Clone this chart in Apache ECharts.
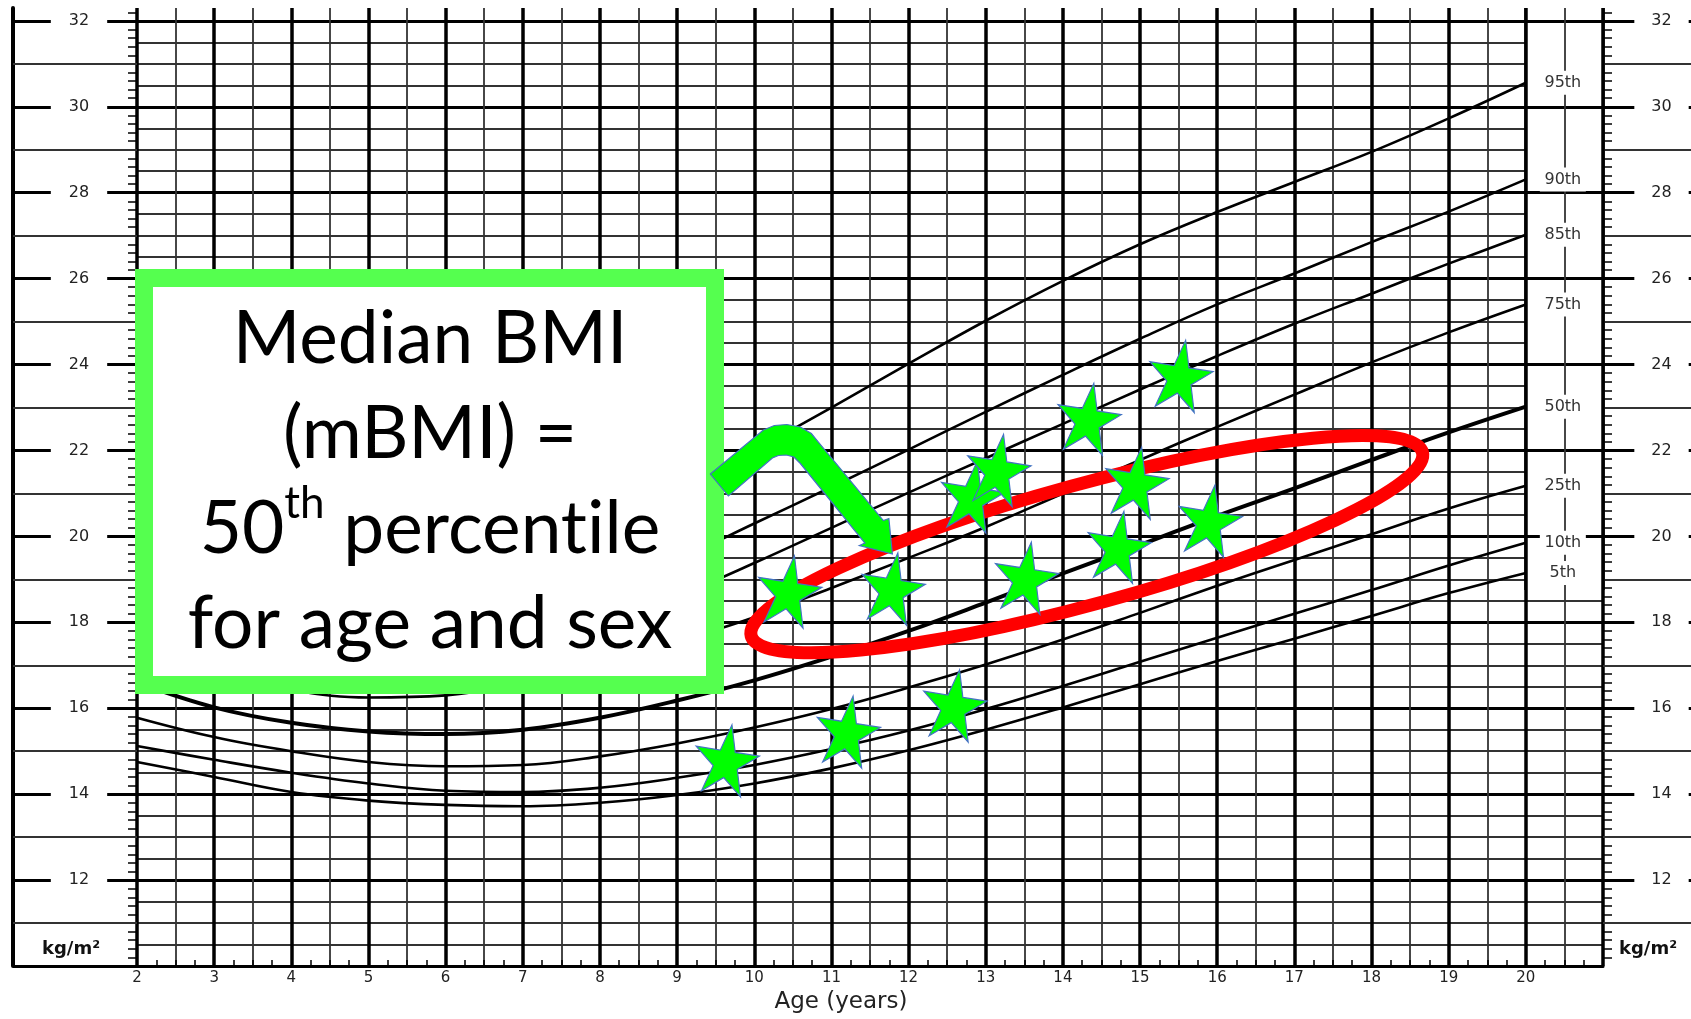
<!DOCTYPE html>
<html>
<head>
<meta charset="utf-8">
<title>Median BMI - BMI-for-age chart</title>
<style>
  html, body { margin: 0; padding: 0; background: #fff; }
  #chart { width: 1691px; height: 1019px; }
</style>
<script src="https://cdn.jsdelivr.net/npm/echarts@6/dist/echarts.min.js"></script>
</head>
<body>
<div id="chart"></div>
<script>
// ages (years) where the percentile curves were read
var ages = [2, 3, 4, 5, 6, 7, 8, 9, 10, 11, 12, 13, 14, 15, 16, 17, 18, 19, 20];

// BMI percentile curves (kg/m2)
var p5  = [14.75, 14.4, 14.05, 13.85, 13.75, 13.72, 13.8, 13.98, 14.25, 14.6, 15.02, 15.5, 16.02, 16.56, 17.1, 17.62, 18.15, 18.68, 19.15];
var p10 = [15.12, 14.8, 14.5, 14.25, 14.08, 14.05, 14.15, 14.38, 14.68, 15.05, 15.48, 15.98, 16.52, 17.08, 17.64, 18.2, 18.75, 19.32, 19.85];
var p25 = [15.78, 15.33, 15.0, 14.75, 14.65, 14.68, 14.88, 15.18, 15.55, 15.98, 16.48, 17.02, 17.6, 18.22, 18.85, 19.45, 20.05, 20.65, 21.18];
var p50 = [16.6, 16.02, 15.66, 15.46, 15.4, 15.5, 15.78, 16.18, 16.65, 17.2, 17.8, 18.46, 19.14, 19.8, 20.48, 21.12, 21.78, 22.42, 23.02];
var p75 = [17.4, 16.8, 16.42, 16.25, 16.3, 16.58, 17.0, 17.55, 18.12, 18.8, 19.5, 20.22, 21.0, 21.78, 22.55, 23.3, 24.05, 24.75, 25.4];
var p85 = [18.0, 17.3, 16.92, 16.8, 17.0, 17.4, 17.92, 18.6, 19.38, 20.2, 21.02, 21.82, 22.62, 23.42, 24.2, 24.95, 25.65, 26.35, 27.02];
var p90 = [18.45, 17.65, 17.3, 17.3, 17.6, 18.1, 18.72, 19.45, 20.3, 21.15, 22.02, 22.9, 23.76, 24.6, 25.4, 26.12, 26.85, 27.56, 28.31];
var p95 = [19.3, 18.3, 17.85, 18.0, 18.55, 19.3, 20.12, 21.02, 22.0, 23.0, 24.02, 25.02, 25.95, 26.8, 27.55, 28.25, 28.95, 29.73, 30.56];

var percentileNames = ['5th', '10th', '25th', '50th', '75th', '85th', '90th', '95th'];
var percentileValues = [p5, p10, p25, p50, p75, p85, p90, p95];

// the green stars (individual children)
var starAges = [10.45, 11.79, 12.82, 13.16, 14.33, 15.52, 14.95, 15.90, 14.72, 13.52, 9.64, 11.21, 12.59];
var starBmi  = [18.74, 18.81, 20.95, 21.57, 22.76, 23.76, 21.27, 20.39, 19.78, 19.06, 14.81, 15.48, 16.09];

// tick values
var oddTicks = [11, 13, 15, 17, 19, 21, 23, 25, 27, 29, 31];
var evenTicks = [10, 12, 14, 16, 18, 20, 22, 24, 26, 28, 30, 32];
var labelTicks = [12, 14, 16, 18, 20, 22, 24, 26, 28, 30, 32];

// red ring and arrow anchors (age, BMI)
var ellipseEnds = [[9.96, 17.68], [18.66, 21.96]];
var arrowTip = [11.79, 19.59];

var Y_MIN = 10, Y_MAX = 32.3;
var TICK_FONT = 'DejaVu Sans';
var THIN = '#333';

var chart = echarts.init(document.getElementById('chart'));

function pairs(xs, ys) {
  return xs.map(function (x, i) { return [x, ys[i]]; });
}

function baseY(extra) {
  var ax = {
    type: 'value', min: Y_MIN, max: Y_MAX, position: 'left',
    axisLine: { show: false }, axisTick: { show: false }, axisLabel: { show: false },
    splitLine: { show: false }, minorTick: { show: false }, minorSplitLine: { show: false }
  };
  return Object.assign(ax, extra);
}

var curveSeries = percentileNames.map(function (name, i) {
  return {
    name: name,
    type: 'line',
    yAxisIndex: 1,
    data: pairs(ages, percentileValues[i]),
    smooth: 0.4,
    symbol: 'none',
    silent: true,
    z: 4,
    lineStyle: { color: '#000', width: name === '50th' ? 4 : 2.6 },
    endLabel: {
      show: true,
      formatter: '{c|' + name + '}',
      distance: 14,
      backgroundColor: '#fff',
      padding: [4, 3],
      color: '#333',
      fontFamily: TICK_FONT,
      fontSize: 16,
      rich: { c: { width: 40, align: 'center', color: '#333', fontFamily: TICK_FONT, fontSize: 16 } }
    }
  };
});

// white label column between 20 and 21 years, with the even lines and verticals redrawn
var columnLines = [];
evenTicks.forEach(function (v) {
  if (v >= 20) {
    columnLines.push([{ coord: [20, v], lineStyle: { color: '#000', width: 3, type: 'solid' } }, { coord: [21, v] }]);
  }
});
[20, 20.5, 21].forEach(function (a) {
  var st = a === 20.5 ? { color: THIN, width: 1.8, type: 'solid' } : { color: '#000', width: 3.5, type: 'solid' };
  columnLines.push([{ coord: [a, 18.75], lineStyle: st }, { coord: [a, Y_MAX] }]);
});

var option = {
  animation: false,
  backgroundColor: '#fff',
  grid: [{ left: 137, right: 88, top: 8, bottom: 53, outerBoundsMode: 'none' }],
  xAxis: [
    {
      type: 'value', min: 2, max: 21, interval: 1, position: 'bottom',
      axisLine: { show: true, onZero: false, lineStyle: { color: '#000', width: 3 } },
      axisTick: { show: true, inside: true, length: 6, lineStyle: { color: '#000', width: 1.5 } },
      minorTick: { show: true, splitNumber: 4, length: 6, lineStyle: { color: '#000', width: 1.5 } },
      axisLabel: {
        margin: 5, color: '#222', fontFamily: TICK_FONT, fontSize: 15,
        formatter: function (v) { return v > 20 ? '' : String(v); }
      },
      splitLine: { show: true, lineStyle: { color: '#000', width: 3.5 } },
      name: 'Age (years)', nameLocation: 'middle', nameGap: 22,
      nameTextStyle: { color: '#222', fontFamily: TICK_FONT, fontSize: 23, padding: [0, 58, 0, 0] }
    },
    {
      // half-year lines
      type: 'value', min: 2, max: 21, interval: 1, position: 'bottom',
      axisLine: { show: false }, axisTick: { show: false }, axisLabel: { show: false },
      splitLine: { show: false },
      minorTick: { show: false, splitNumber: 2 },
      minorSplitLine: { show: true, lineStyle: { color: THIN, width: 1.8 } }
    }
  ],
  yAxis: [
    // 0: odd and half lines
    baseY({ interval: 2, minorTick: { show: false, splitNumber: 4 },
      minorSplitLine: { show: true, lineStyle: { color: THIN, width: 1.8 } } }),
    // 1: even lines
    baseY({ interval: 2, splitLine: { show: true, showMaxLine: false, lineStyle: { color: '#000', width: 3 } } }),
    // 2: odd lines running into the left margin
    baseY({ interval: 1, axisTick: { show: true, customValues: oddTicks, length: 124, lineStyle: { color: THIN, width: 1.8 } } }),
    // 3: small ticks every 0.2
    baseY({ interval: 1, minorTick: { show: true, splitNumber: 5, length: 9, lineStyle: { color: '#000', width: 1.5 } } }),
    // 4: even ticks + labels on the left
    baseY({ interval: 2,
      axisTick: { show: true, customValues: evenTicks, length: 124, lineStyle: { color: '#000', width: 3 } },
      axisLabel: { show: true, customValues: labelTicks, align: 'center', margin: 58, color: '#222',
        fontFamily: TICK_FONT, fontSize: 16, backgroundColor: '#fff', padding: [3, 18] } }),
    // 5: left frame
    baseY({ interval: 2, offset: 124, axisLine: { show: true, lineStyle: { color: '#000', width: 4 } } }),
    // 6: odd lines into the right margin
    baseY({ interval: 1, position: 'right',
      axisTick: { show: true, customValues: oddTicks, length: 95, lineStyle: { color: THIN, width: 1.8 } } }),
    // 7: small ticks on the right
    baseY({ interval: 1, position: 'right',
      minorTick: { show: true, splitNumber: 5, length: 9, lineStyle: { color: '#000', width: 1.5 } } }),
    // 8: even ticks + labels on the right
    baseY({ interval: 2, position: 'right',
      axisTick: { show: true, customValues: labelTicks, length: 95, lineStyle: { color: '#000', width: 3 } },
      axisLabel: { show: true, customValues: labelTicks, align: 'center', margin: 58.5, color: '#222',
        fontFamily: TICK_FONT, fontSize: 16, backgroundColor: '#fff', padding: [3, 17] } })
  ],
  series: curveSeries.concat([
    {
      type: 'line', yAxisIndex: 1, data: [[20.5, 25]], symbol: 'none', silent: true,
      lineStyle: { opacity: 0 },
      markArea: { silent: true, z: 1, itemStyle: { color: '#fff' },
        data: [[{ coord: [20, 18.75] }, { coord: [21, Y_MAX] }]] },
      markLine: { silent: true, z: 2, symbol: ['none', 'none'], label: { show: false },
        lineStyle: { type: 'solid' }, data: columnLines }
    },
    {
      type: 'scatter', yAxisIndex: 1, z: 10, silent: true,
      data: pairs(starAges, starBmi),
      symbol: 'path://M0,-100 L22.45,-30.9 L95.1,-30.9 L36.3,11.8 L58.8,80.9 L0,38.2 L-58.8,80.9 L-36.3,11.8 L-95.1,-30.9 L-22.45,-30.9 Z',
      symbolSize: [64, 70],
      symbolRotate: -9,
      itemStyle: { color: '#00ff00', borderColor: '#4472c4', borderWidth: 1.2, opacity: 1 }
    }
  ])
};

chart.setOption(option);

// annotations placed from the data scale
var px = function (p) { return chart.convertToPixel({ seriesIndex: 0 }, p); };
var e0 = px(ellipseEnds[0]);
var e1 = px(ellipseEnds[1]);
var tip = px(arrowTip);

// bent arrow outline, relative to its tip (pixels)
var arrowShape = [
  [-182, -80], [-129, -124], [-118, -128.5], [-105.6, -129.5], [-92, -127],
  [-81, -120.5], [-74, -112], [-9, -33.5], [-3.5, -35.5], [0, 0], [-33, -8.5],
  [-27.5, -11], [-92, -90.5], [-98.5, -97], [-106, -99], [-114, -98.5],
  [-120, -96], [-164, -58]
];

chart.setOption({
  graphic: [
    {
      type: 'ellipse', z: 6, silent: true,
      x: (e0[0] + e1[0]) / 2, y: (e0[1] + e1[1]) / 2,
      rotation: Math.atan2(e0[1] - e1[1], e1[0] - e0[0]),
      shape: { cx: 0, cy: 0, rx: Math.hypot(e1[0] - e0[0], e1[1] - e0[1]) / 2, ry: 60 },
      style: { fill: 'none', stroke: '#ff0000', lineWidth: 13 }
    },
    {
      type: 'rect', z: 20, silent: true,
      shape: { x: 144, y: 278, width: 571, height: 407 },
      style: { fill: '#fff', stroke: '#55ff4f', lineWidth: 18 }
    },
    {
      type: 'text', z: 21, silent: true, x: 430, y: 292,
      style: {
        text: 'Median BMI\n(mBMI) =\n{n|50}{sup|th}{n| percent\u200Cile}\nfor age and sex',
        fill: '#000', fontFamily: 'Lato', fontSize: 73, lineHeight: 95,
        align: 'center', verticalAlign: 'top',
        rich: {
          n: { fontFamily: 'Lato', fontSize: 73, lineHeight: 95 },
          sup: { fontFamily: 'Lato', fontSize: 44, lineHeight: 66, verticalAlign: 'top' }
        }
      }
    },
    {
      type: 'polygon', z: 30, silent: true, x: tip[0], y: tip[1],
      shape: { points: arrowShape },
      style: { fill: '#00ff00', stroke: '#4472c4', lineWidth: 1.2 }
    },
    {
      type: 'text', z: 21, silent: true, x: 71, y: 949,
      style: { text: 'kg/m²', fill: '#111', fontFamily: TICK_FONT, fontWeight: 'bold', fontSize: 18,
        align: 'center', verticalAlign: 'middle' }
    },
    {
      type: 'text', z: 21, silent: true, x: 1619, y: 949,
      style: { text: 'kg/m²', fill: '#111', fontFamily: TICK_FONT, fontWeight: 'bold', fontSize: 18,
        align: 'left', verticalAlign: 'middle' }
    }
  ]
});

window.addEventListener('resize', function () {
  chart.resize();
});
</script>
</body>
</html>
